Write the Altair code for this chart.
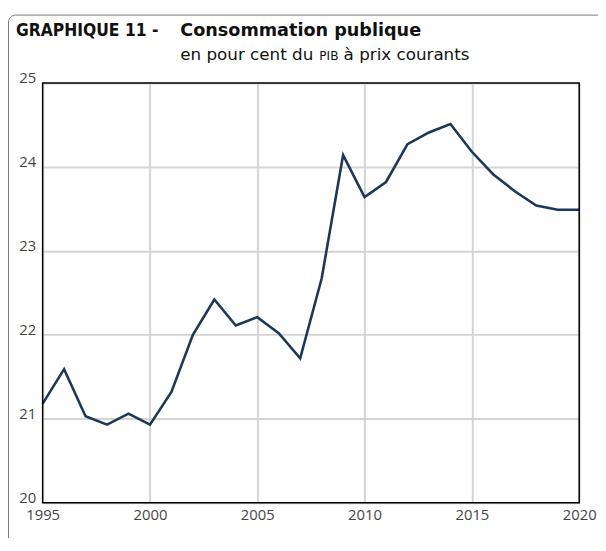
import altair as alt
import pandas as pd

# ---- data ----
years = list(range(1995, 2021))
values = [21.18, 21.59, 21.03, 20.93, 21.06, 20.93, 21.32, 22.00, 22.42, 22.11,
          22.21, 22.02, 21.72, 22.67, 24.14, 23.64, 23.82, 24.27, 24.41, 24.51,
          24.18, 23.91, 23.71, 23.54, 23.49, 23.49]
x_ticks = [1995, 2000, 2005, 2010, 2015, 2020]
y_ticks = [20, 21, 22, 23, 24, 25]

label_graph = "GRAPHIQUE 11 -"
title_text = "Consommation publique"
subtitle_a = "en pour cent du"
subtitle_b = "PIB"
subtitle_c = "à prix courants"

df = pd.DataFrame({"year": years, "value": values})

W, H = 542, 424
AXFONT = "Open Sans"
TFONT = "DejaVu Sans"

line = alt.Chart(df).mark_line(color="#1d3857", strokeWidth=2.6).encode(
    x=alt.X("year:Q",
            scale=alt.Scale(domain=[1995, 2020], nice=False, zero=False),
            axis=alt.Axis(values=x_ticks, format="d", title=None, grid=True,
                          gridColor="#d4d4d4", gridWidth=2, ticks=False,
                          domain=False, labelPadding=5, labelFontSize=15,
                          labelColor="#444444", labelFont=AXFONT,
                          labelFlush=False)),
    y=alt.Y("value:Q",
            scale=alt.Scale(domain=[20, 25], nice=False, zero=False),
            axis=alt.Axis(values=y_ticks, title=None, grid=True,
                          gridColor="#d4d4d4", gridWidth=2, ticks=False,
                          domain=False, labelPadding=7, labelFontSize=15,
                          labelColor="#444444", labelFont=AXFONT,
                          labelBaseline="alphabetic", labelFlush=False)),
)

one = pd.DataFrame({"k": [0]})

frame = alt.Chart(one).mark_rect(
    fill="transparent", stroke="#7a7a7a", strokeWidth=1, cornerRadius=7
).encode(
    x=alt.value(-34.5), x2=alt.value(W + 60),
    y=alt.value(-68.5), y2=alt.value(H + 60),
)

border = alt.Chart(one).mark_rect(
    fill="transparent", stroke="black", strokeWidth=1.5
).encode(
    x=alt.value(0), x2=alt.value(W),
    y=alt.value(0), y2=alt.value(H),
)


def txt(s, x, y, size, weight="normal", font=TFONT, color="#111111"):
    return alt.Chart(pd.DataFrame({"t": [s]})).mark_text(
        align="left", baseline="alphabetic", font=font, fontSize=size,
        fontWeight=weight, color=color
    ).encode(text="t:N", x=alt.value(x), y=alt.value(y))


t1 = txt(label_graph, -27, -47.7, 17.5, "bold", font="DejaVu Sans Condensed")
t2 = txt(title_text, 139, -47.7, 17.8, "bold")
s1 = txt(subtitle_a, 139, -22.7, 16.9)
s2 = txt(subtitle_b, 279.5, -22.7, 12.2)
s3 = txt(subtitle_c, 304, -22.7, 16.9)

chart = alt.layer(frame, line, border, t1, t2, s1, s2, s3).properties(
    width=W, height=H,
    autosize="none",
    padding={"left": 35, "top": 73, "right": 19, "bottom": 33},
    background="white",
).configure_view(stroke=None)

chart.save("out.html", embed_options={"renderer": "svg", "actions": False})
